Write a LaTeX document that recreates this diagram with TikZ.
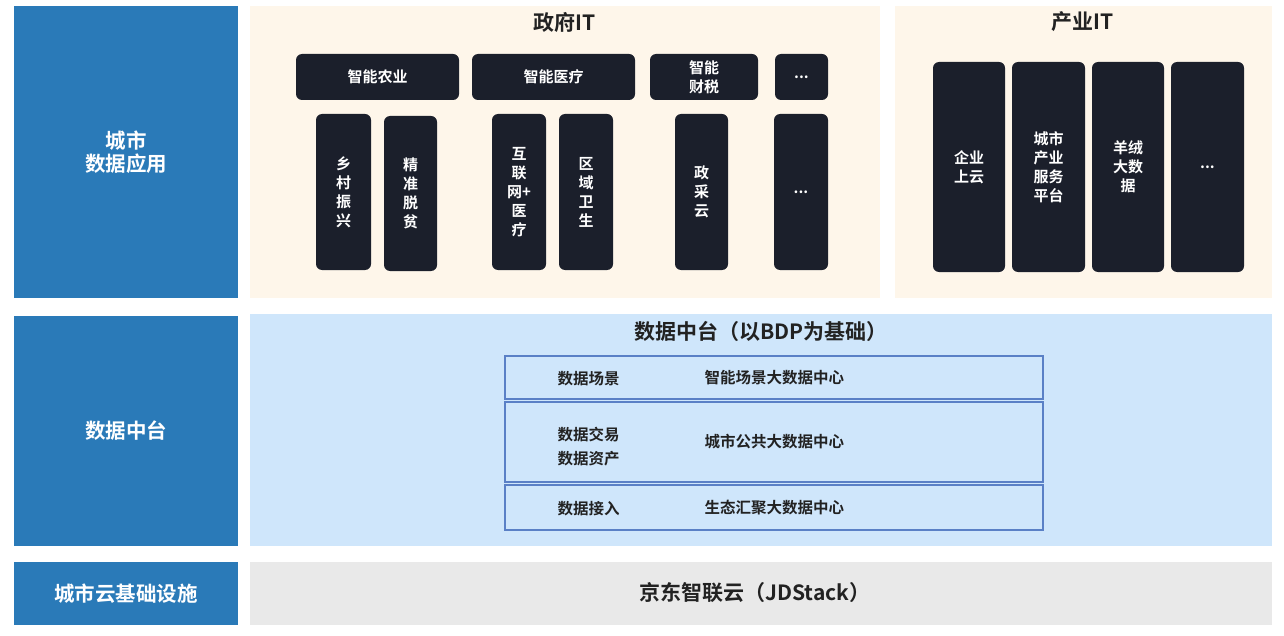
\documentclass[tikz,border=0pt]{standalone}
\usepackage{fontspec}
\setmainfont{Noto Sans CJK SC}
\newfontfamily\cjkb{Noto Sans CJK SC Bold}
\definecolor{lblue}{HTML}{2A7AB8}
\definecolor{gov}{HTML}{FEF6EA}
\definecolor{mid}{HTML}{CFE6FB}
\definecolor{infra}{HTML}{E9E9E9}
\definecolor{dark}{HTML}{1B1F2B}
\definecolor{rowline}{HTML}{5A80C6}
\definecolor{txt}{HTML}{222222}
\begin{document}
\begin{tikzpicture}[x=1pt,y=-1pt,
  lbox/.style={fill=lblue,draw=none,text=white,font=\cjkb\fontsize{20.5}{23}\selectfont,align=center},
  dbox/.style={fill=dark,draw=none,rounded corners=6pt,text=white,font=\cjkb\fontsize{15}{19}\selectfont,align=center},
  rowbox/.style={draw=rowline,line width=1.3pt,fill=mid},
  rowtxt/.style={text=txt,font=\cjkb\fontsize{15.5}{24}\selectfont,align=left},
  ttl/.style={text=txt,font=\cjkb\fontsize{21}{24}\selectfont}]
\useasboundingbox (0,0) rectangle (1284,636);
\fill[white] (0,0) rectangle (1284,636);
% left column
\path[lbox] (14,6) rectangle (238,298) node[midway] (la) {城市\\数据应用};
\path[lbox] (14,316) rectangle (238,546) node[midway] (lb) {数据中台};
\path[lbox] (14,562) rectangle (238,625) node[midway] (lc) {城市云基础设施};
% panels
\fill[gov] (250,6) rectangle (880,298);
\fill[gov] (895,6) rectangle (1272,298);
\fill[mid] (250,314) rectangle (1272,546);
\fill[infra] (250,562) rectangle (1272,625);
\node[ttl] (tgov) at (565,22) {政府IT};
\node[ttl] (tind) at (1083,22) {产业IT};
\node[ttl] (tmid) at (761,331) {数据中台（以BDP为基础）};
\node[ttl] (tinf) at (755,593) {京东智联云（JDStack）};
% gov IT top row
\path[dbox] (296,54) rectangle (459,100) node[midway] (g1) {智能农业};
\path[dbox] (472,54) rectangle (635,100) node[midway] (g2) {智能医疗};
\path[dbox] (650,54) rectangle (758,100) node[midway] (g3) {智能\\财税};
\path[dbox] (775,54) rectangle (828,100) node[midway] (g4) {...};
% gov IT lower row
\path[dbox] (316,114) rectangle (371,270) node[midway] (s1) {乡\\村\\振\\兴};
\path[dbox] (384,116) rectangle (437,271) node[midway] (s2) {精\\准\\脱\\贫};
\path[dbox] (492,114) rectangle (546,270) node[midway] (s3) {互\\联\\网+\\医\\疗};
\path[dbox] (559,114) rectangle (613,270) node[midway] (s4) {区\\域\\卫\\生};
\path[dbox] (675,114) rectangle (728,270) node[midway] (s5) {政\\采\\云};
\path[dbox] (774,114) rectangle (828,270) node[midway] (s6) {...};
% industry IT
\path[dbox] (933,62) rectangle (1005,272) node[midway] (i1) {企业\\上云};
\path[dbox] (1012,62) rectangle (1085,272) node[midway] (i2) {城市\\产业\\服务\\平台};
\path[dbox] (1092,62) rectangle (1164,272) node[midway] (i3) {羊绒\\大数\\据};
\path[dbox] (1171,62) rectangle (1244,272) node[midway] (i4) {...};
% data middle rows
\draw[rowbox] (505,356) rectangle (1043,399);
\draw[rowbox] (505,402) rectangle (1043,482);
\draw[rowbox] (505,485) rectangle (1043,530);
\node[rowtxt,anchor=west] (r1a) at (554,379) {数据场景};
\node[rowtxt,anchor=west] (r1b) at (701,378) {智能场景大数据中心};
\node[rowtxt,anchor=west] (r2a) at (554,447) {数据交易\\数据资产};
\node[rowtxt,anchor=west] (r2b) at (701,442) {城市公共大数据中心};
\node[rowtxt,anchor=west] (r3a) at (554,509) {数据接入};
\node[rowtxt,anchor=west] (r3b) at (701,508) {生态汇聚大数据中心};
\end{tikzpicture}
\end{document}
